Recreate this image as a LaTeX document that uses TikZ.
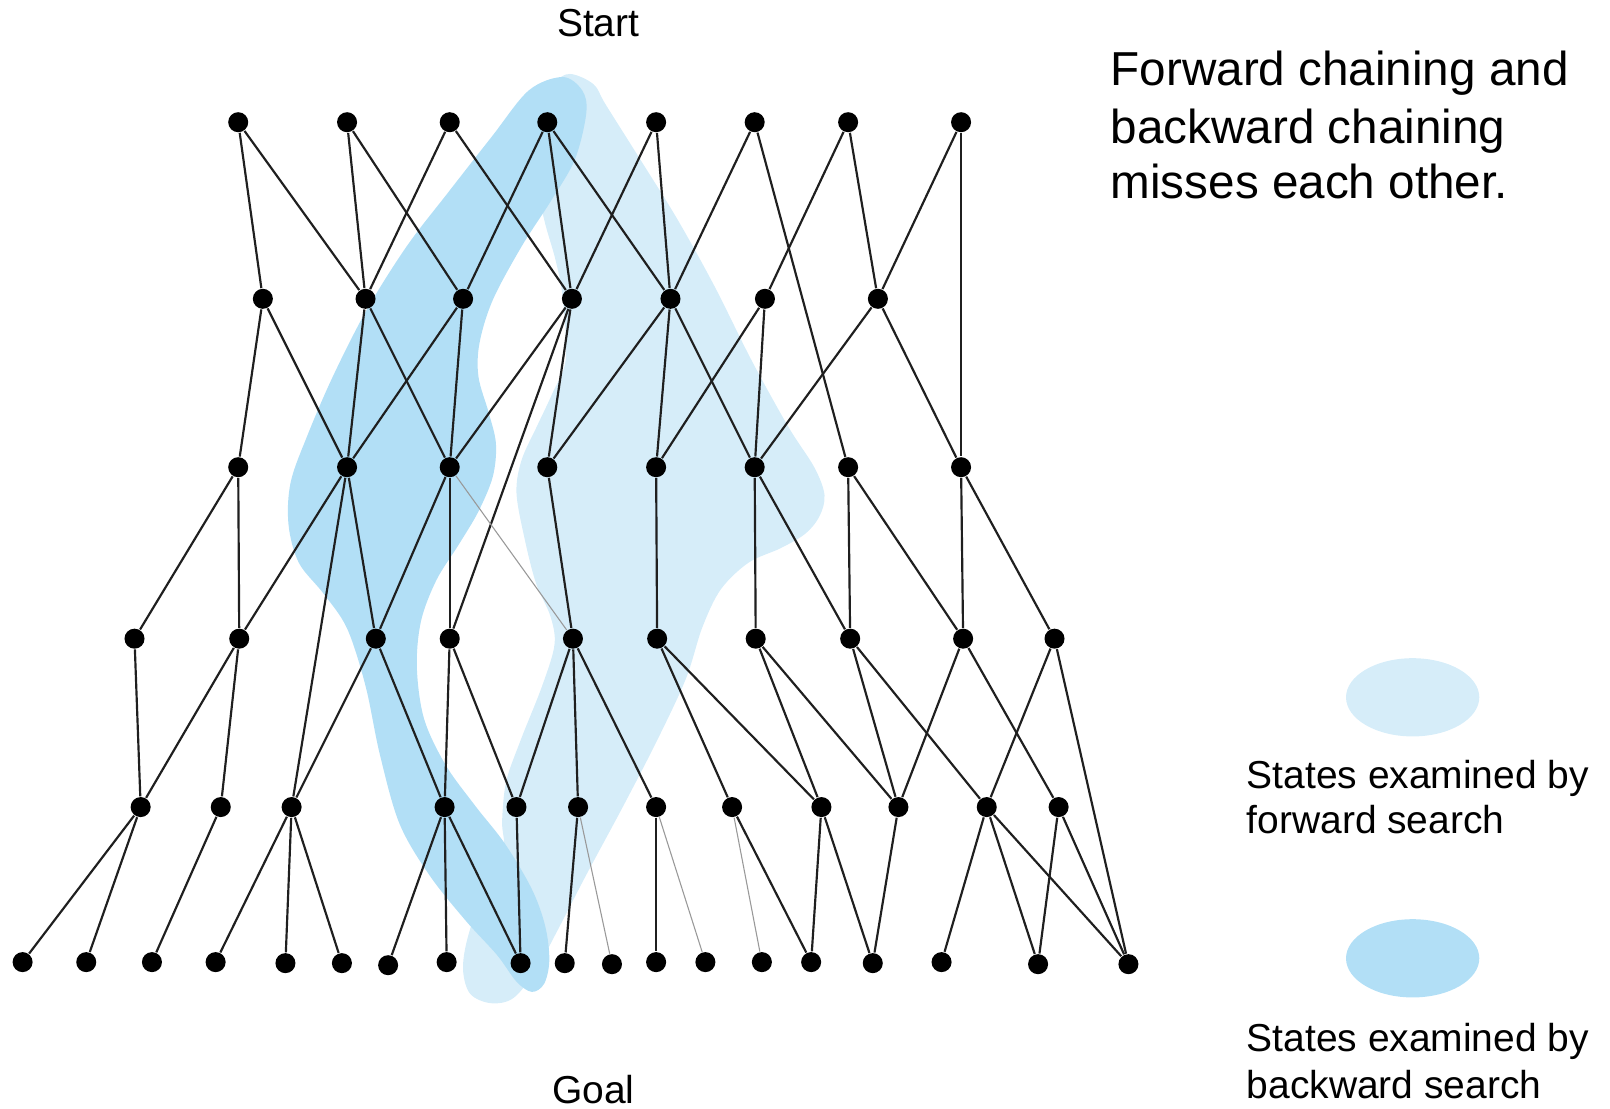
\documentclass[tikz,border=0pt]{standalone}
\usepackage{fontspec}
\setmainfont{Liberation Sans}
\definecolor{fwdblue}{RGB}{214,237,249}
\definecolor{bwdblue}{RGB}{178,223,246}
\begin{document}
\begin{tikzpicture}[x=0.1mm,y=-0.1mm,
  dot/.style={circle,fill=black,inner sep=0pt,minimum size=1.95mm},
  link/.style={line width=0.6pt,draw=black!88},
  faint/.style={line width=0.3pt,draw=black!40},
  lbl/.style={font=\fontsize{10.8pt}{12.8pt}\selectfont,inner sep=0pt},
  title/.style={font=\fontsize{13.2pt}{15.8pt}\selectfont,inner sep=0pt,anchor=base west}]
\useasboundingbox (0,0) rectangle (1568,1080);

% regions explored by the two searches
\fill[fwdblue] plot[smooth cycle,tension=0.55] coordinates {
  (555,72) (578,82) (590,102) (624,156) (660,214) (696,279) (732,351)
  (768,416) (793,455) (803,482) (798,503) (784,520) (760,534) (729,548)
  (702,574) (684,611) (668,661) (640,721) (607,785) (571,852) (542,908)
  (522,945) (500,972) (478,977) (458,968) (451,945) (455,915) (470,870)
  (490,830) (489,800) (493,761) (507,721) (528,668) (540,628) (536,600)
  (522,568) (511,525) (503,480) (508,448) (523,415) (538,383) (551,350)
  (548,290) (541,253) (530,214) (522,170) (528,115) (540,82)};
\fill[bwdblue] plot[smooth cycle,tension=0.55] coordinates {
  (548,75) (567,88) (571,110) (560,155) (537,195) (508,240) (480,292)
  (467,334) (466,367) (476,402) (483,432) (480,464) (466,498) (447,530)
  (425,565) (410,605) (406,650) (413,700) (434,745) (463,785) (492,822)
  (518,866) (531,902) (535,935) (530,958) (518,966) (503,956) (484,930)
  (453,896) (418,852) (389,802) (370,735) (356,668) (338,612) (315,578)
  (291,548) (281,511) (283,470) (299,425) (324,367) (357,302) (396,240)
  (436,188) (479,133) (515,88)};

% state nodes, one row per depth
\foreach \n/\x in {a0/232,a1/338,a2/438,a3/533,a4/639,a5/735,a6/826,a7/936}
  \node[dot] (\n) at (\x,119) {};
\foreach \n/\x in {b0/256,b1/356,b2/451,b3/557,b4/653,b5/745,b6/855}
  \node[dot] (\n) at (\x,291) {};
\foreach \n/\x in {c0/232,c1/338,c2/438,c3/533,c4/639,c5/735,c6/826,c7/936}
  \node[dot] (\n) at (\x,455) {};
\foreach \n/\x in {d0/131,d1/233,d2/366,d3/438,d4/558,d5/640,d6/736,d7/828,d8/938,d9/1027}
  \node[dot] (\n) at (\x,622) {};
\foreach \n/\x in {e0/137,e1/215,e2/284,e3/433,e4/503,e5/563,e6/639,e7/713,e8/800,e9/875,e10/961,e11/1031}
  \node[dot] (\n) at (\x,786) {};
\foreach \n/\x/\y in {f0/22/937,f1/84/937,f2/148/937,f3/210/937,f4/278/938,f5/333/938,
  f6/378/940,f7/435/937,f8/507/938,f9/550/938,f10/596/939,f11/639/937,f12/687/937,
  f13/742/937,f14/790/937,f15/850/938,f16/917/937,f17/1011/939,f18/1099/939}
  \node[dot] (\n) at (\x,\y) {};

% transitions
\foreach \u/\v in {a0/b0,a0/b1,a1/b1,a1/b2,a2/b1,a2/b3,a3/b2,a3/b3,a3/b4,a4/b3,a4/b4,
  a5/b4,a5/c6,a6/b5,a6/b6,a7/b6,a7/c7,
  b0/c0,b0/c1,b1/c1,b1/c2,b2/c1,b2/c2,b3/c2,b3/d3,b3/c3,b4/c3,b4/c4,b4/c5,
  b5/c4,b5/c5,b6/c5,b6/c7,
  c0/d0,c0/d1,c1/d1,c1/e2,c1/d2,c2/d2,c2/d3,c3/d4,c4/d5,c5/d6,c5/d7,
  c6/d7,c6/d8,c7/d8,c7/d9,
  d0/e0,d1/e0,d1/e1,d2/e2,d2/e3,d3/e3,d3/e4,d4/e4,d4/e5,d4/e6,d5/e7,d5/e8,
  d6/e8,d6/e9,d7/e9,d7/e10,d8/e9,d8/e11,d9/e10,d9/f18,
  e0/f0,e0/f1,e1/f2,e2/f3,e2/f4,e2/f5,e3/f6,e3/f7,e3/f8,e4/f8,e5/f9,
  e6/f11,e7/f14,e8/f14,e8/f15,e9/f15,e10/f16,e10/f17,e10/f18,e11/f17,e11/f18}
  \draw[link] (\u) -- (\v);
\foreach \u/\v in {c2/d4,e5/f10,e6/f12,e7/f13}
  \draw[faint] (\u) -- (\v);

% labels
\node[lbl,anchor=base] (start) at (582.7,35.7) {Start};
\node[lbl,anchor=base] (goal) at (578,1075) {Goal};
\node[title] (t1) at (1081,82.8) {Forward chaining and};
\node[title] (t2) at (1081,139.6) {backward chaining};
\node[title] (t3) at (1081,193.2) {misses each other.};

% legend
\fill[fwdblue] (1375.8,679.1) ellipse [x radius=6.49mm, y radius=3.81mm];
\fill[bwdblue] (1375.8,933.3) ellipse [x radius=6.49mm, y radius=3.81mm];
\node[lbl,anchor=base west] (fl1) at (1213.5,767.8) {States examined by};
\node[lbl,anchor=base west] (fl2) at (1213.5,811.5) {forward search};
\node[lbl,anchor=base west] (bl1) at (1213.5,1024.2) {States examined by};
\node[lbl,anchor=base west] (bl2) at (1213.5,1069.6) {backward search};
\end{tikzpicture}
\end{document}
